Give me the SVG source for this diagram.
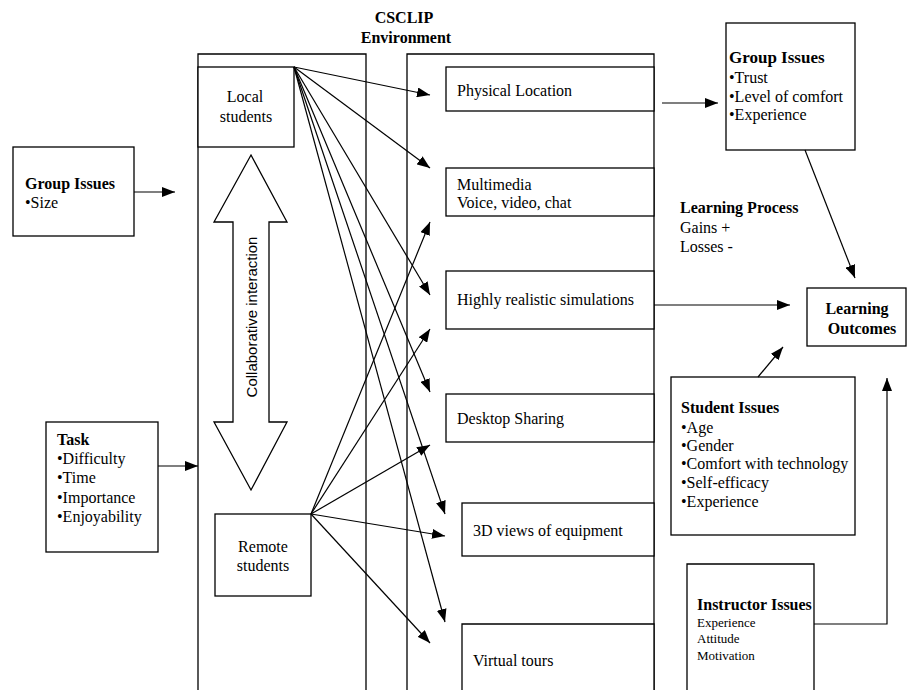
<svg xmlns="http://www.w3.org/2000/svg" width="909" height="690" viewBox="0 0 909 690">
  <style>
    .box { fill: #fff; stroke: #000; stroke-width: 1.3; }
    .col { fill: none; stroke: #000; stroke-width: 1.3; }
    .t { font-family: "Liberation Serif", "Times New Roman", serif; font-size: 16px; fill: #000; }
    .b { font-weight: bold; }
    .s { font-size: 13px; }
    .sans { font-family: "Liberation Sans", Arial, sans-serif; font-size: 15px; fill: #000; }
    .link { fill: none; stroke: #000; stroke-width: 1.2; marker-end: url(#arrow); }
  </style>
  <defs>
    <marker id="arrow" markerUnits="userSpaceOnUse" markerWidth="14" markerHeight="10" refX="13" refY="5" orient="auto">
      <path d="M0,0 L13,5 L0,10 z" fill="#000"/>
    </marker>
  </defs>
  <rect width="909" height="690" fill="#fff"/>

  <!-- environment title -->
  <g id="title">
    <text class="t b" x="404" y="23" text-anchor="middle">CSCLIP</text>
    <text class="t b" x="406" y="43" text-anchor="middle">Environment</text>
  </g>

  <!-- student column -->
  <g id="students-column">
    <path class="col" d="M198,695 V54 H366 V695"/>
  </g>
  <g id="local-students">
    <rect class="box" x="198" y="67" width="96" height="80"/>
    <text class="t" x="245" y="102" text-anchor="middle">Local</text>
    <text class="t" x="246" y="122" text-anchor="middle">students</text>
  </g>
  <g id="collaborative-interaction">
    <polygon class="box" points="251,155 287,222 269,222 269,422 287,422 251,490 214,422 233,422 233,222 214,222"/>
    <text class="sans" transform="translate(257,317) rotate(-90)" text-anchor="middle">Collaborative interaction</text>
  </g>
  <g id="remote-students">
    <rect class="box" x="215" y="514" width="96" height="82"/>
    <text class="t" x="263" y="552" text-anchor="middle">Remote</text>
    <text class="t" x="263" y="571" text-anchor="middle">students</text>
  </g>

  <!-- environment column -->
  <g id="environment-column">
    <path class="col" d="M407,695 V54 H654 V695"/>
  </g>
  <g id="physical-location">
    <rect class="box" x="446" y="67" width="208" height="44"/>
    <text class="t" x="457" y="96">Physical Location</text>
  </g>
  <g id="multimedia">
    <rect class="box" x="446" y="168" width="208" height="48"/>
    <text class="t" x="457" y="190">Multimedia</text>
    <text class="t" x="457" y="208">Voice, video, chat</text>
  </g>
  <g id="simulations">
    <rect class="box" x="446" y="271" width="208" height="58"/>
    <text class="t" x="457" y="305">Highly realistic simulations</text>
  </g>
  <g id="desktop-sharing">
    <rect class="box" x="446" y="394" width="208" height="48"/>
    <text class="t" x="457" y="424">Desktop Sharing</text>
  </g>
  <g id="views-3d">
    <rect class="box" x="462" y="503" width="192" height="53"/>
    <text class="t" x="473" y="536">3D views of equipment</text>
  </g>
  <g id="virtual-tours">
    <path class="box" d="M462,695 V624 H654 V695"/>
    <text class="t" x="473" y="666">Virtual tours</text>
  </g>

  <!-- left inputs -->
  <g id="group-size">
    <rect class="box" x="13" y="147" width="121" height="89"/>
    <text class="t b" x="25" y="189">Group Issues</text>
    <text class="t" x="25" y="208">•Size</text>
  </g>
  <g id="task">
    <rect class="box" x="46" y="422" width="112" height="130"/>
    <text class="t b" x="57" y="445">Task</text>
    <text class="t" x="57" y="464">•Difficulty</text>
    <text class="t" x="57" y="483">•Time</text>
    <text class="t" x="57" y="503">•Importance</text>
    <text class="t" x="57" y="522">•Enjoyability</text>
  </g>

  <!-- right side -->
  <g id="group-issues">
    <rect class="box" x="726" y="23" width="129" height="127"/>
    <text class="t b" x="729" y="63" style="font-size:17px">Group Issues</text>
    <text class="t" x="729" y="83">•Trust</text>
    <text class="t" x="729" y="102">•Level of comfort</text>
    <text class="t" x="729" y="120">•Experience</text>
  </g>
  <g id="learning-process">
    <text class="t b" x="680" y="213">Learning Process</text>
    <text class="t" x="680" y="233">Gains +</text>
    <text class="t" x="680" y="252">Losses -</text>
  </g>
  <g id="learning-outcomes">
    <rect class="box" x="807" y="288" width="99" height="58"/>
    <text class="t b" x="857" y="314" text-anchor="middle">Learning</text>
    <text class="t b" x="862" y="334" text-anchor="middle">Outcomes</text>
  </g>
  <g id="student-issues">
    <rect class="box" x="671" y="377" width="184" height="158"/>
    <text class="t b" x="681" y="413">Student Issues</text>
    <text class="t" x="681" y="433">•Age</text>
    <text class="t" x="681" y="451">•Gender</text>
    <text class="t" x="681" y="469">•Comfort with technology</text>
    <text class="t" x="681" y="488">•Self-efficacy</text>
    <text class="t" x="681" y="507">•Experience</text>
  </g>
  <g id="instructor-issues">
    <path class="box" d="M687,695 V564 H814 V695"/>
    <text class="t b" x="697" y="610">Instructor Issues</text>
    <text class="t s" x="697" y="627">Experience</text>
    <text class="t s" x="697" y="643">Attitude</text>
    <text class="t s" x="697" y="660">Motivation</text>
  </g>

  <!-- connectors -->
  <g id="connectors">
    <line class="link" x1="134" y1="192" x2="175" y2="192"/>
    <line class="link" x1="158" y1="466" x2="198" y2="466"/>

    <line class="link" x1="294" y1="67" x2="430" y2="95"/>
    <line class="link" x1="294" y1="67" x2="430" y2="168"/>
    <line class="link" x1="294" y1="67" x2="430" y2="295"/>
    <line class="link" x1="294" y1="67" x2="430" y2="392"/>
    <line class="link" x1="294" y1="67" x2="445" y2="514"/>
    <line class="link" x1="294" y1="67" x2="445" y2="622"/>

    <line class="link" x1="311" y1="514" x2="430" y2="222"/>
    <line class="link" x1="311" y1="514" x2="430" y2="329"/>
    <line class="link" x1="311" y1="514" x2="430" y2="445"/>
    <line class="link" x1="311" y1="514" x2="445" y2="536"/>
    <line class="link" x1="311" y1="514" x2="430" y2="643"/>

    <line class="link" x1="662" y1="103" x2="718" y2="103"/>
    <line class="link" x1="654" y1="305" x2="790" y2="305"/>
    <line class="link" x1="805" y1="150" x2="855" y2="278"/>
    <line class="link" x1="758" y1="377" x2="783" y2="347"/>
    <path class="link" d="M814,624 H887 V378"/>
  </g>
</svg>
